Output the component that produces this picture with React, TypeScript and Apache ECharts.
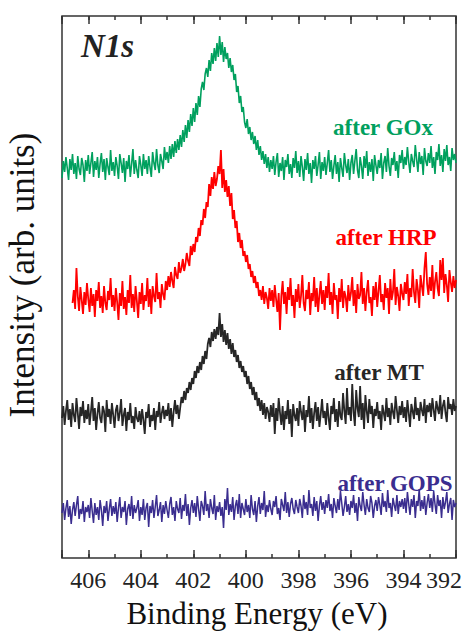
import React, { useEffect, useRef } from "react";
import * as echarts from "echarts";

// Binding energy grids (eV): each trace is sampled evenly from its start to its end energy
const GOX_RANGE = [407, 392];
const HRP_RANGE = [406.6, 392];
const MT_RANGE = [407, 392];
const GOPS_RANGE = [407, 392];

const xTicks = [406, 404, 402, 400, 398, 396, 394, 392];

const labels = ["after GOx", "after HRP", "after MT", "after GOPS"];

// Intensity (arb. units), stacked offsets as in the figure
const goxValues = [
  380, 397, 386, 401, 390, 378, 399, 388, 404, 384, 395, 379, 402, 389, 383, 400, 393, 376, 398, 387,
  403, 384, 395, 406, 381, 397, 388, 401, 380, 394, 405, 386, 399, 378, 400, 391, 383, 408, 387, 396,
  382, 401, 392, 379, 404, 395, 385, 400, 376, 397, 389, 403, 381, 394, 409, 384, 398, 388, 380, 402,
  393, 382, 404, 389, 398, 384, 402, 391, 381, 406, 395, 388, 409, 393, 385, 404, 397, 389, 411, 398,
  406, 395, 412, 399, 414, 401, 417, 405, 419, 408, 423, 411, 428, 416, 433, 420, 438, 426, 444, 432,
  450, 436, 455, 443, 462, 451, 469, 476, 468, 484, 490, 481, 498, 487, 505, 494, 510, 497, 515, 501,
  522, 503, 516, 496, 511, 499, 505, 490, 500, 486, 493, 478, 484, 466, 472, 455, 462, 446, 451, 436,
  430, 439, 424, 431, 418, 426, 414, 422, 408, 418, 403, 412, 398, 407, 394, 404, 390, 401, 386, 398,
  389, 402, 383, 396, 405, 381, 395, 387, 401, 378, 398, 391, 404, 384, 394, 380, 400, 390, 407, 385,
  397, 381, 402, 391, 377, 399, 388, 405, 384, 395, 375, 398, 389, 402, 382, 393, 406, 379, 396, 387,
  401, 383, 395, 408, 386, 398, 379, 392, 403, 384, 396, 376, 400, 390, 381, 405, 393, 385, 399, 378,
  395, 403, 384, 397, 409, 388, 380, 401, 392, 379, 402, 390, 407, 382, 396, 386, 399, 377, 403, 393,
  384, 398, 390, 405, 379, 395, 402, 386, 410, 392, 382, 400, 393, 406, 387, 397, 380, 403, 395, 408,
  389, 401, 393, 411, 396, 385, 404, 397, 391, 413, 399, 386, 406, 394, 402, 383, 410, 397, 392, 405,
  395, 412, 390, 401, 384, 406, 398, 414, 392, 403, 386, 409, 397, 413, 393, 401, 387, 410, 398, 404, 395,
];

const hrpValues = [
  255, 268, 249, 290, 262, 247, 271, 258, 244, 266, 253, 275,
  259, 246, 270, 252, 264, 241, 268, 257, 276, 250, 262, 245, 272, 255, 248, 267, 258, 280, 251, 263,
  247, 270, 256, 238, 265, 252, 277, 249, 261, 243, 268, 255, 283, 250, 264, 246, 272, 257, 240, 266,
  254, 275, 248, 263, 257, 280, 251, 269, 244, 272, 262, 256, 285, 259, 266, 250, 274, 264, 258, 277,
  268, 282, 271, 286, 277, 270, 291, 283, 279, 296, 285, 290, 299, 287, 294, 305, 297, 292, 312, 303,
  314, 306, 321, 316, 330, 322, 338, 333, 349, 340, 356, 351, 374, 362, 381, 369, 386, 372, 379, 392,
  384, 408, 370, 389, 366, 378, 361, 372, 352, 365, 339, 348, 330, 337, 316, 325, 310, 318, 302, 307,
  296, 303, 289, 294, 281, 287, 275, 282, 270, 276, 262, 268, 258, 272, 254, 266, 260, 249, 270, 257,
  268, 251, 273, 259, 246, 265, 228, 262, 277, 254, 266, 244, 271, 258, 280, 252, 263, 240, 269, 256,
  274, 250, 262, 283, 255, 247, 268, 259, 276, 243, 265, 257, 281, 251, 270, 246, 263, 277, 254, 268,
  248, 272, 260, 285, 253, 266, 244, 275, 258, 263, 239, 270, 256, 279, 250, 267, 261, 246, 273, 257,
  265, 281, 252, 268, 245, 274, 259, 263, 286, 254, 270, 247, 266, 278, 255, 261, 242, 272, 258, 276,
  251, 267, 283, 256, 264, 248, 275, 260, 270, 244, 279, 258, 266, 289, 253, 271, 262, 247, 274, 265,
  258, 276, 264, 284, 252, 270, 261, 289, 266, 255, 279, 268, 250, 283, 272, 262, 290, 306, 274, 263,
  281, 267, 293, 259, 276, 286, 270, 262, 298, 278, 300, 265, 284, 273, 256, 288, 276, 266, 282, 270, 278,
];

const mtValues = [
  140, 152, 133, 147, 158, 138, 149, 131, 155, 143, 136, 160, 145, 129, 151, 142, 157, 135, 148, 139,
  154, 133, 146, 161, 137, 150, 128, 144, 156, 140, 135, 152, 147, 126, 158, 141, 149, 134, 155, 143,
  130, 148, 153, 137, 145, 159, 132, 143, 150, 127, 146, 138, 155, 135, 142, 129, 151, 140, 136, 147,
  133, 149, 138, 124, 146, 140, 154, 131, 143, 137, 150, 128, 147, 141, 156, 135, 145, 152, 139, 148,
  142, 155, 137, 150, 131, 146, 158, 144, 153, 139, 150, 161, 155, 167, 158, 170, 165, 176, 168, 180,
  174, 187, 180, 192, 185, 196, 188, 202, 194, 207, 199, 214, 220, 211, 226, 217, 229, 219, 231, 223,
  245, 221, 234, 216, 228, 213, 225, 209, 219, 204, 215, 201, 208, 196, 203, 190, 197, 186, 192, 181,
  187, 174, 182, 169, 176, 163, 171, 158, 166, 152, 160, 147, 158, 143, 155, 139, 151, 146, 136, 153,
  141, 155, 124, 150, 137, 160, 145, 133, 152, 128, 147, 139, 158, 134, 149, 121, 154, 143, 137, 150,
  132, 157, 146, 138, 153, 126, 148, 141, 162, 135, 150, 129, 145, 156, 137, 151, 131, 144, 159, 140,
  147, 133, 155, 140, 128, 152, 144, 160, 136, 149, 131, 157, 142, 138, 165, 147, 134, 170, 143, 151,
  137, 174, 146, 132, 168, 150, 141, 172, 138, 155, 129, 163, 147, 135, 159, 144, 152, 130, 149, 142,
  156, 139, 147, 128, 153, 145, 137, 160, 141, 150, 133, 155, 146, 139, 162, 148, 135, 152, 143, 157,
  140, 151, 136, 158, 145, 131, 154, 147, 139, 161, 143, 150, 137, 156, 148, 142, 159, 135, 153, 146,
  155, 141, 160, 148, 137, 157, 150, 144, 163, 139, 152, 158, 145, 136, 161, 149, 154, 143, 159, 147, 152,
];

const gopsValues = [
  45, 55, 38, 50, 58, 41, 52, 34, 48, 56, 42, 53, 62, 39, 49, 44, 57, 36, 51, 46,
  53, 40, 60, 47, 35, 55, 43, 51, 38, 58, 48, 32, 52, 45, 57, 37, 49, 59, 42, 52,
  44, 56, 36, 50, 61, 40, 51, 46, 57, 33, 49, 54, 42, 62, 39, 53, 45, 50, 58, 37,
  51, 43, 59, 38, 50, 55, 31, 52, 45, 58, 40, 51, 63, 42, 48, 56, 36, 53, 44, 57,
  48, 40, 54, 61, 43, 51, 37, 57, 49, 45, 60, 39, 53, 47, 64, 42, 54, 33, 50, 58,
  45, 55, 41, 62, 49, 37, 57, 52, 43, 67, 47, 54, 40, 59, 50, 44, 63, 38, 52, 46,
  56, 42, 51, 30, 59, 48, 70, 43, 54, 46, 61, 38, 52, 58, 44, 64, 40, 55, 49, 43,
  59, 46, 53, 40, 63, 49, 43, 57, 36, 52, 61, 44, 55, 48, 67, 41, 53, 46, 58, 49,
  43, 57, 51, 62, 44, 50, 38, 59, 53, 47, 66, 45, 56, 41, 54, 60, 49, 44, 58, 51,
  45, 59, 52, 40, 63, 49, 56, 43, 68, 50, 54, 42, 61, 47, 57, 37, 52, 62, 48, 56,
  44, 58, 50, 64, 47, 54, 40, 60, 52, 45, 59, 48, 67, 55, 42, 51, 62, 46, 54, 43,
  57, 50, 63, 45, 55, 37, 61, 52, 47, 66, 53, 43, 59, 50, 46, 62, 55, 40, 52, 58,
  47, 61, 53, 43, 65, 51, 57, 46, 68, 50, 55, 41, 60, 53, 47, 63, 44, 57, 51, 59,
  49, 60, 45, 66, 54, 43, 59, 51, 63, 40, 57, 52, 69, 47, 58, 49, 62, 43, 55, 64,
  50, 60, 46, 67, 54, 44, 63, 52, 58, 40, 61, 49, 56, 66, 45, 54, 60, 38, 58, 51, 55,
];

const COLORS = ["#00a05e", "#ff0000", "#262626", "#3a2d8f"];
const WIDTHS = [1.6, 1.8, 1.8, 1.5];

function toPairs(range: number[], values: number[]) {
  const n = values.length;
  return values.map((v, i) => [range[0] + ((range[1] - range[0]) * i) / (n - 1), v]);
}

const SERIF = "'Times New Roman', 'Liberation Serif', 'DejaVu Serif', serif";

export default function App() {
  const ref = useRef<HTMLDivElement>(null);

  useEffect(() => {
    document.body.style.margin = "0";
    if (!ref.current) return;
    const chart = echarts.init(ref.current, undefined, { renderer: "svg" });

    const tickStyle = { color: "#333", width: 1.5 };
    const baseX = {
      type: "value" as const,
      min: 392,
      max: 407,
      inverse: true,
      axisLine: { show: false },
      splitLine: { show: false },
    };

    const traces = [
      { name: labels[0], range: GOX_RANGE, values: goxValues },
      { name: labels[1], range: HRP_RANGE, values: hrpValues },
      { name: labels[2], range: MT_RANGE, values: mtValues },
      { name: labels[3], range: GOPS_RANGE, values: gopsValues },
    ];

    const labelPos = [
      [383, 127],
      [386, 237],
      [379, 372],
      [395, 483],
    ];

    chart.setOption({
      animation: false,
      backgroundColor: "#ffffff",
      textStyle: { fontFamily: SERIF },
      grid: {
        left: 62,
        right: 7,
        top: 16,
        bottom: 73,
        show: true,
        borderColor: "#333",
        borderWidth: 1.5,
        backgroundColor: "transparent",
      },
      xAxis: [
        {
          ...baseX,
          position: "bottom",
          interval: 2,
          axisTick: { show: true, inside: true, length: 8, lineStyle: tickStyle },
          axisLabel: {
            show: true,
            margin: 10,
            fontSize: 24,
            fontWeight: "normal",
            color: "#222",
            fontFamily: SERIF,
            formatter: (v: number) =>
              v === 392 ? "{e|392}" : xTicks.includes(v) ? String(v) : "",
            rich: {
              e: {
                fontSize: 24,
                fontFamily: SERIF,
                color: "#222",
                padding: [0, 24, 0, 0],
              },
            },
          },
        },
        {
          ...baseX,
          position: "bottom",
          interval: 1,
          axisTick: { show: true, inside: true, length: 4, lineStyle: tickStyle },
          axisLabel: { show: false },
        },
        {
          ...baseX,
          position: "top",
          interval: 2,
          axisTick: { show: true, inside: true, length: 8, lineStyle: tickStyle },
          axisLabel: { show: false },
        },
        {
          ...baseX,
          position: "top",
          interval: 1,
          axisTick: { show: true, inside: true, length: 4, lineStyle: tickStyle },
          axisLabel: { show: false },
        },
      ],
      yAxis: {
        type: "value",
        min: 0,
        max: 542,
        show: false,
      },
      series: traces.map((t, k) => ({
        name: t.name,
        type: "line",
        xAxisIndex: 0,
        showSymbol: false,
        symbol: "none",
        data: toPairs(t.range, t.values),
        lineStyle: { color: COLORS[k], width: WIDTHS[k] },
        itemStyle: { color: COLORS[k] },
        z: 2,
      })),
      graphic: [
        {
          type: "text",
          left: 81,
          top: 29,
          style: {
            text: "N1s",
            fontSize: 33,
            fontStyle: "italic",
            fontWeight: "bold",
            fontFamily: SERIF,
            fill: "#222",
          },
        },
        ...labels.map((txt, k) => ({
          type: "text",
          x: labelPos[k][0],
          y: labelPos[k][1],
          style: {
            text: txt,
            fontSize: 23,
            fontWeight: "bold",
            fontFamily: SERIF,
            fill: COLORS[k],
            align: "center",
            verticalAlign: "middle",
          },
        })),
        {
          type: "text",
          x: 257,
          y: 613,
          style: {
            text: "Binding Energy (eV)",
            fontSize: 31,
            fontWeight: "normal",
            fontFamily: SERIF,
            fill: "#111",
            align: "center",
            verticalAlign: "middle",
          },
        },
        {
          type: "text",
          x: 22,
          y: 275,
          rotation: Math.PI / 2,
          style: {
            text: "Intensity (arb. units)",
            fontSize: 35,
            fontWeight: "normal",
            fontFamily: SERIF,
            fill: "#111",
            align: "center",
            verticalAlign: "middle",
          },
        },
      ],
    });

    return () => chart.dispose();
  }, []);

  return <div ref={ref} style={{ width: 465, height: 631 }} />;
}
